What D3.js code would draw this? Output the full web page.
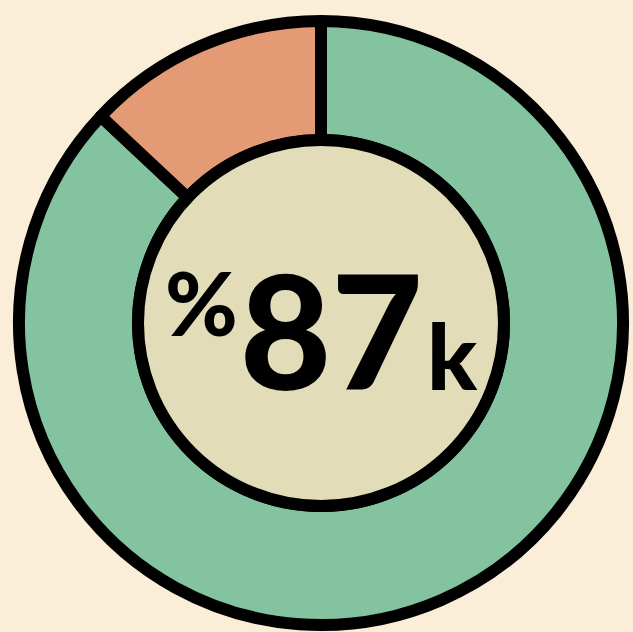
<!DOCTYPE html>
<html>
<head>
<meta charset="utf-8">
<script src="https://cdn.jsdelivr.net/npm/d3@7"></script>
<style>
  body { margin: 0; background: #faeed8; }
</style>
</head>
<body>
<div id="chart"></div>
<script>
const categories = ["Share", "Rest"];
const values = [87, 13];
const colors = ["#84c3a0", "#e39a75"];
const labelParts = ["%", "87", "k"];

const width = 633, height = 632;
const cx = 321, cy = 323;
const outerR = 302, innerR = 183;

const svg = d3.select("#chart")
  .append("svg")
    .attr("width", width)
    .attr("height", height);

svg.append("rect")
    .attr("width", width)
    .attr("height", height)
    .attr("fill", "#faeed8");

const g = svg.append("g")
    .attr("transform", `translate(${cx},${cy})`);

const pie = d3.pie().sort(null).value(d => d);
const arc = d3.arc().innerRadius(innerR).outerRadius(outerR);

g.selectAll("path.slice")
  .data(pie(values))
  .join("path")
    .attr("class", "slice")
    .attr("d", arc)
    .attr("fill", (d, i) => colors[i])
    .attr("stroke", "#000")
    .attr("stroke-width", 12)
    .attr("stroke-linejoin", "round");

// inner disc
g.append("circle")
    .attr("r", innerR)
    .attr("fill", "#e3dcb9")
    .attr("stroke", "#000")
    .attr("stroke-width", 12);

// center label
const label = g.append("text")
    .attr("text-anchor", "middle")
    .attr("y", 67)
    .style("font-family", "Lato, Inter, 'Noto Sans', sans-serif")
    .style("font-weight", 900)
    .attr("fill", "#000");

label.append("tspan")
    .attr("font-size", 88)
    .attr("dy", -54)
    .text(labelParts[0]);
label.append("tspan")
    .attr("font-size", 158)
    .attr("dy", 54)
    .attr("dx", 2)
    .text(labelParts[1]);
label.append("tspan")
    .attr("font-size", 92)
    .attr("dx", 4)
    .text(labelParts[2]);
</script>
</body>
</html>
